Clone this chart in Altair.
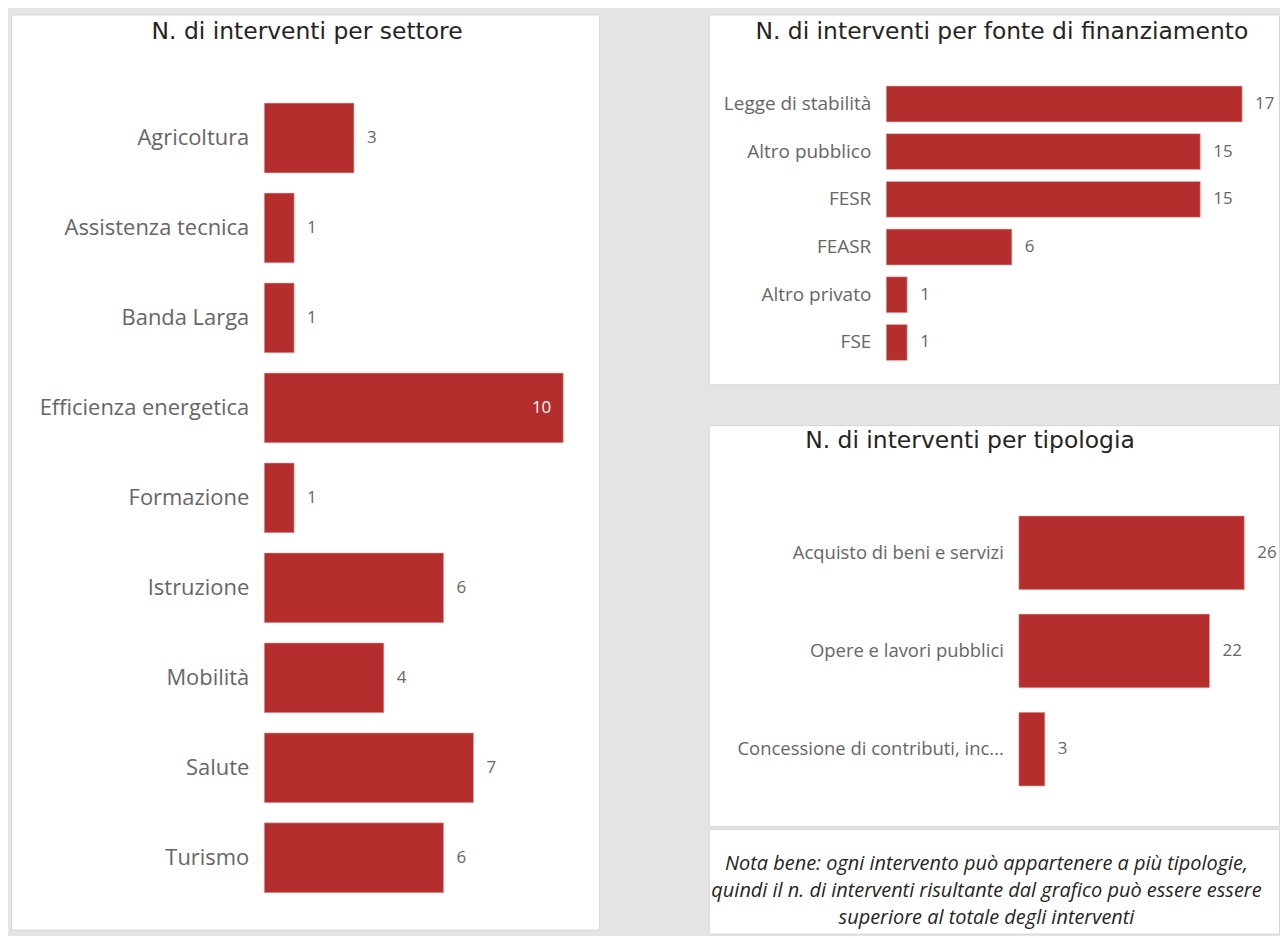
import altair as alt
import pandas as pd

# ---- data ----
settori = ["Agricoltura", "Assistenza tecnica", "Banda Larga", "Efficienza energetica",
           "Formazione", "Istruzione", "Mobilità", "Salute", "Turismo"]
settori_n = [3, 1, 1, 10, 1, 6, 4, 7, 6]

fonti = ["Legge di stabilità", "Altro pubblico", "FESR", "FEASR", "Altro privato", "FSE"]
fonti_n = [17, 15, 15, 6, 1, 1]

tipologie = ["Acquisto di beni e servizi", "Opere e lavori pubblici",
             "Concessione di contributi, inc..."]
tipologie_n = [26, 22, 3]

nota = ["Nota bene: ogni intervento può appartenere a più tipologie,",
        "quindi il n. di interventi risultante dal grafico può essere essere",
        "superiore al totale degli interventi"]

BAR = "#B32E2C"
LBL = "#666666"
TITLE = "#252423"
LABEL_FONT = "Open Sans"
TITLE_FONT = "DejaVu Sans"


def panel(cats, vals, title, width, height, xdom, pad_inner, pad_outer, align,
          cat_size, val_size, title_x, title_y, inside_max=False):
    df = pd.DataFrame({"cat": cats, "n": vals})
    df["zero"] = 0
    y = alt.Y("cat:N", sort=cats, axis=None,
              scale=alt.Scale(type="band", paddingInner=pad_inner,
                              paddingOuter=pad_outer, align=align))
    xs = alt.Scale(domain=xdom, nice=False, zero=False)
    base = alt.Chart(df)
    bars = base.mark_bar(color=BAR, stroke="#e8b4b3", strokeWidth=0.6).encode(
        x=alt.X("zero:Q", scale=xs, axis=None),
        x2="n:Q",
        y=y,
    )
    cat_lbl = base.mark_text(align="right", baseline="middle", dx=-15,
                             font=LABEL_FONT, fontSize=cat_size, color=LBL).encode(
        x=alt.X("zero:Q", scale=xs), y=y, text="cat:N")
    layers = [bars, cat_lbl]
    if inside_max:
        mx = max(vals)
        out = base.transform_filter(alt.datum.n < mx)
        ins = base.transform_filter(alt.datum.n >= mx)
        layers.append(ins.mark_text(align="right", baseline="middle", dx=-12,
                                    font=LABEL_FONT, fontSize=val_size, color="white").encode(
            x=alt.X("n:Q", scale=xs), y=y, text="n:Q"))
    else:
        out = base
    layers.append(out.mark_text(align="left", baseline="middle", dx=13,
                                font=LABEL_FONT, fontSize=val_size, color=LBL).encode(
        x=alt.X("n:Q", scale=xs), y=y, text="n:Q"))
    head = alt.Chart(pd.DataFrame({"t": [title]})).mark_text(
        align="center", baseline="middle", font=TITLE_FONT, fontSize=23.5,
        color=TITLE).encode(x=alt.value(title_x), y=alt.value(title_y), text="t:N")
    layers.append(head)
    return alt.layer(*layers).properties(width=width, height=height)


left = panel(settori, settori_n, "N. di interventi per settore", 590, 918,
             [-8.47, 11.2], 0.2244, 0.698, 0.706, 22, 17, 297, 18, inside_max=True)

top_right = panel(fonti, fonti_n, "N. di interventi per fonte di finanziamento", 572, 371,
                  [-8.476, 18.76], 0.247, 1.0, 0.75, 19, 17, 294, 18)

bottom_right = panel(tipologie, tipologie_n, "N. di interventi per tipologia", 572, 402,
                     [-35.75, 30.0], 0.249, 0.665, 0.695, 18.5, 17, 262, 16)

nota_df = pd.DataFrame({"riga": nota, "i": list(range(len(nota)))})
nota_df["c"] = 0.487
note = alt.Chart(nota_df).mark_text(
    align="center", baseline="middle", font=LABEL_FONT, fontSize=20,
    fontStyle="italic", color=TITLE
).encode(
    x=alt.X("c:Q", scale=alt.Scale(domain=[0, 1]), axis=None),
    y=alt.Y("i:O", axis=None,
            scale=alt.Scale(type="band", paddingInner=0, paddingOuter=0.444, align=0.896)),
    text="riga:N",
).properties(width=572, height=105)

right = alt.vconcat(
    top_right,
    alt.vconcat(bottom_right, note, spacing=1),
    spacing=39,
)

chart = alt.hconcat(left, right, spacing=108).properties(
    background="#e4e4e4",
    padding={"left": 2, "top": 4, "right": 0, "bottom": 0},
).configure_view(
    fill="white", stroke="#d6d6d6", strokeWidth=1
).configure_concat(spacing=0)

chart.save("out.html", embed_options={"renderer": "svg", "actions": False})
